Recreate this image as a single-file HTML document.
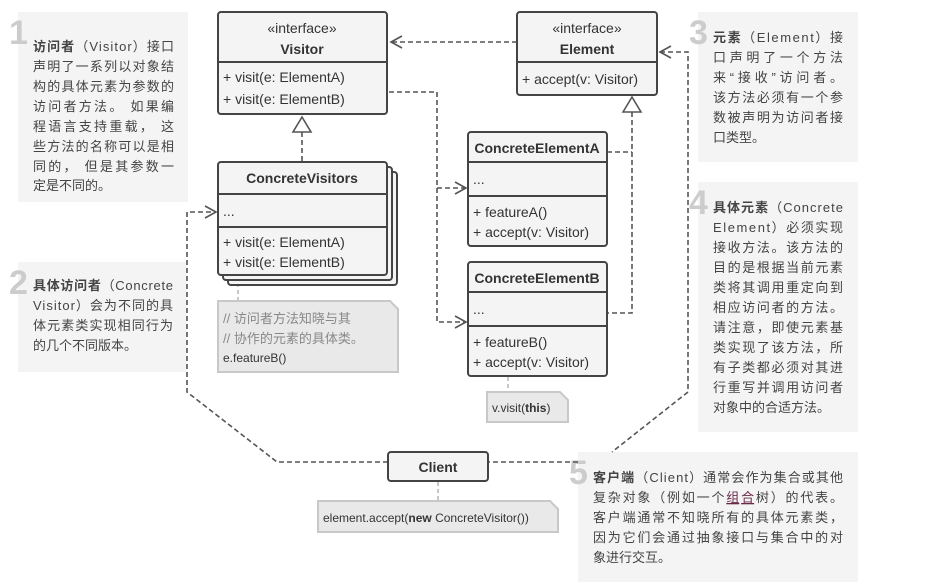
<!DOCTYPE html>
<html><head><meta charset="utf-8"><style>
html,body{margin:0;padding:0;background:#fff;width:951px;height:585px;overflow:hidden}
svg{display:block}
text{font-family:"Liberation Sans","Noto Sans CJK SC",sans-serif}
.n{font-size:13px;fill:#444}
.b{font-size:14px;fill:#333}
.num{font-size:34px;font-weight:bold;fill:#ccc}
.bx{fill:#f4f4f4;stroke:#444;stroke-width:2}
.d{fill:none;stroke:#555;stroke-width:1.6;stroke-dasharray:5,3}
.g{fill:none;stroke:#bbb;stroke-width:1.6;stroke-dasharray:4,3}
.nt{fill:#e9e9e9;stroke:#c8c8c8;stroke-width:2}
</style></head><body>
<svg width="951" height="585" viewBox="0 0 951 585">
<rect x="18" y="12" width="170" height="190" fill="#f4f4f4"/>
<rect x="18" y="262" width="169" height="110" fill="#f4f4f4"/>
<rect x="698" y="12" width="160" height="150" fill="#f4f4f4"/>
<rect x="698" y="182" width="160" height="250" fill="#f4f4f4"/>
<rect x="578" y="452" width="280" height="130" fill="#f4f4f4"/>
<text class="num" x="9" y="44">1</text>
<text class="num" x="9" y="294">2</text>
<text class="num" x="689" y="44">3</text>
<text class="num" x="689" y="214">4</text>
<text class="num" x="569" y="484">5</text>

<g class="n">
<text x="33" y="51" textLength="141" lengthAdjust="spacing"><tspan font-weight="bold">访问者</tspan>（Visitor）接口</text>
<text x="33" y="71" textLength="141" lengthAdjust="spacing">声明了一系列以对象结</text>
<text x="33" y="91" textLength="141" lengthAdjust="spacing">构的具体元素为参数的</text>
<text x="33" y="111" textLength="141" lengthAdjust="spacing">访问者方法。 如果编</text>
<text x="33" y="131" textLength="141" lengthAdjust="spacing">程语言支持重载， 这</text>
<text x="33" y="151" textLength="141" lengthAdjust="spacing">些方法的名称可以是相</text>
<text x="33" y="171" textLength="141" lengthAdjust="spacing">同的， 但是其参数一</text>
<text x="33" y="190">定是不同的。</text>

<text x="33" y="290" textLength="140" lengthAdjust="spacing"><tspan font-weight="bold">具体访问者</tspan>（Concrete</text>
<text x="33" y="310" textLength="140" lengthAdjust="spacing">Visitor）会为不同的具</text>
<text x="33" y="330" textLength="140" lengthAdjust="spacing">体元素类实现相同行为</text>
<text x="33" y="350">的几个不同版本。</text>

<text x="713" y="42" textLength="130" lengthAdjust="spacing"><tspan font-weight="bold">元素</tspan>（Element）接</text>
<text x="713" y="62" textLength="130" lengthAdjust="spacing">口声明了一个方法</text>
<text x="713" y="82" textLength="130" lengthAdjust="spacing">来“接收”访问者。</text>
<text x="713" y="102" textLength="130" lengthAdjust="spacing">该方法必须有一个参</text>
<text x="713" y="122" textLength="130" lengthAdjust="spacing">数被声明为访问者接</text>
<text x="713" y="142">口类型。</text>

<text x="713" y="212" textLength="130" lengthAdjust="spacing"><tspan font-weight="bold">具体元素</tspan>（Concrete</text>
<text x="713" y="232" textLength="130" lengthAdjust="spacing">Element）必须实现</text>
<text x="713" y="252" textLength="130" lengthAdjust="spacing">接收方法。该方法的</text>
<text x="713" y="272" textLength="130" lengthAdjust="spacing">目的是根据当前元素</text>
<text x="713" y="292" textLength="130" lengthAdjust="spacing">类将其调用重定向到</text>
<text x="713" y="312" textLength="130" lengthAdjust="spacing">相应访问者的方法。</text>
<text x="713" y="332" textLength="130" lengthAdjust="spacing">请注意，即使元素基</text>
<text x="713" y="352" textLength="130" lengthAdjust="spacing">类实现了该方法，所</text>
<text x="713" y="372" textLength="130" lengthAdjust="spacing">有子类都必须对其进</text>
<text x="713" y="392" textLength="130" lengthAdjust="spacing">行重写并调用访问者</text>
<text x="713" y="412">对象中的合适方法。</text>

<text x="593" y="482" textLength="250" lengthAdjust="spacing"><tspan font-weight="bold">客户端</tspan>（Client）通常会作为集合或其他</text>
<text x="593" y="502" textLength="250" lengthAdjust="spacing">复杂对象（例如一个<tspan fill="#6b2a4a" text-decoration="underline">组合</tspan>树）的代表。</text>
<text x="593" y="522" textLength="250" lengthAdjust="spacing">客户端通常不知晓所有的具体元素类，</text>
<text x="593" y="542" textLength="250" lengthAdjust="spacing">因为它们会通过抽象接口与集合中的对</text>
<text x="593" y="562">象进行交互。</text>
</g>

<path class="d" d="M517 42 H392"/>
<path d="M402 36 L391 42 L402 48" fill="none" stroke="#555" stroke-width="1.6"/>
<path class="d" d="M302 132 V162"/>
<path d="M293 132 L302 117 L311 132 Z" fill="#fff" stroke="#555" stroke-width="1.6"/>
<path class="d" d="M632 112 V313 H607 M607 152 H632"/>
<path d="M623 112 L632 97 L641 112 Z" fill="#fff" stroke="#555" stroke-width="1.6"/>
<path class="d" d="M389 92 H437 V322 H465 M437 188 H465"/>
<path d="M455 182 L466 188 L455 194 M455 316 L466 322 L455 328" fill="none" stroke="#555" stroke-width="1.6"/>
<path class="d" d="M660 52 H688 V392 L612 452 M578 462 H489"/>
<path d="M671 46 L660 52 L671 58" fill="none" stroke="#555" stroke-width="1.6"/>
<path class="d" d="M388 462 H277 L187 392 V212 H215"/>
<path d="M205 206 L216 212 L205 218" fill="none" stroke="#555" stroke-width="1.6"/>
<path class="g" d="M238 276 V301 M508 377 V392 M438 482 V501"/>

<rect class="bx" x="218" y="12" width="169" height="102" rx="3"/>
<line x1="218" y1="62" x2="387" y2="62" stroke="#444" stroke-width="2"/>
<text class="b" x="302" y="33" text-anchor="middle">«interface»</text>
<text class="b" x="302" y="54" text-anchor="middle" font-weight="bold">Visitor</text>
<text class="b" x="223" y="82">+ visit(e: ElementA)</text>
<text class="b" x="223" y="104">+ visit(e: ElementB)</text>

<rect class="bx" x="517" y="12" width="140" height="83" rx="3"/>
<line x1="517" y1="62" x2="657" y2="62" stroke="#444" stroke-width="2"/>
<text class="b" x="587" y="33" text-anchor="middle">«interface»</text>
<text class="b" x="587" y="54" text-anchor="middle" font-weight="bold">Element</text>
<text class="b" x="522" y="84">+ accept(v: Visitor)</text>

<rect class="bx" x="228" y="172" width="169" height="113" rx="3"/>
<rect class="bx" x="223" y="167" width="169" height="113" rx="3"/>
<rect class="bx" x="218" y="162" width="169" height="113" rx="3"/>
<line x1="218" y1="194" x2="387" y2="194" stroke="#444" stroke-width="2"/>
<line x1="218" y1="227" x2="387" y2="227" stroke="#444" stroke-width="2"/>
<text class="b" x="302" y="183" text-anchor="middle" font-weight="bold">ConcreteVisitors</text>
<text class="b" x="223" y="216">...</text>
<text class="b" x="223" y="247">+ visit(e: ElementA)</text>
<text class="b" x="223" y="267">+ visit(e: ElementB)</text>

<rect class="bx" x="468" y="132" width="139" height="114" rx="3"/>
<line x1="468" y1="162" x2="607" y2="162" stroke="#444" stroke-width="2"/>
<line x1="468" y1="196" x2="607" y2="196" stroke="#444" stroke-width="2"/>
<text class="b" x="537" y="153" text-anchor="middle" font-weight="bold">ConcreteElementA</text>
<text class="b" x="473" y="184">...</text>
<text class="b" x="473" y="217">+ featureA()</text>
<text class="b" x="473" y="237">+ accept(v: Visitor)</text>

<rect class="bx" x="468" y="262" width="139" height="114" rx="3"/>
<line x1="468" y1="292" x2="607" y2="292" stroke="#444" stroke-width="2"/>
<line x1="468" y1="326" x2="607" y2="326" stroke="#444" stroke-width="2"/>
<text class="b" x="537" y="283" text-anchor="middle" font-weight="bold">ConcreteElementB</text>
<text class="b" x="473" y="314">...</text>
<text class="b" x="473" y="347">+ featureB()</text>
<text class="b" x="473" y="367">+ accept(v: Visitor)</text>

<rect class="bx" x="388" y="452" width="100" height="29" rx="3"/>
<text class="b" x="438" y="472" text-anchor="middle" font-weight="bold">Client</text>

<path class="nt" d="M218 301 H390 L398 309 V372 H218 Z"/>
<text x="223" y="323" font-size="13" fill="#888">// 访问者方法知晓与其</text>
<text x="223" y="343" font-size="13" fill="#888">// 协作的元素的具体类。</text>
<text x="223" y="362" font-size="12" fill="#333">e.featureB()</text>
<path class="nt" d="M487 392 H560 L568 400 V422 H487 Z"/>
<text x="492" y="412" font-size="12" fill="#333">v.visit(<tspan font-weight="bold">this</tspan>)</text>
<path class="nt" d="M318 501 H550 L558 509 V532 H318 Z"/>
<text x="323" y="522" font-size="12" fill="#333">element.accept(<tspan font-weight="bold">new</tspan> ConcreteVisitor())</text>
</svg>
</body></html>
